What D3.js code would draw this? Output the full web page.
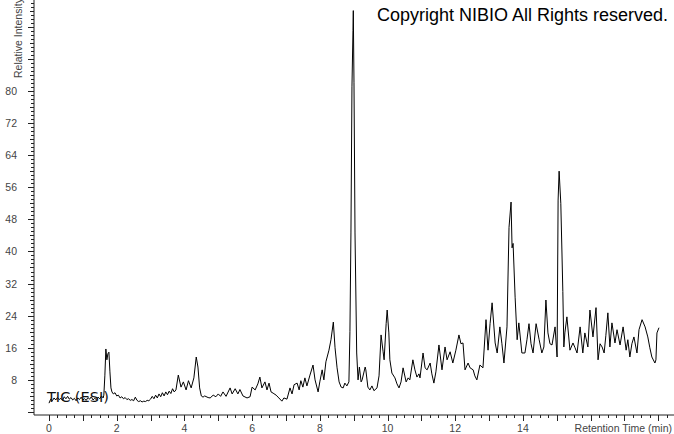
<!DOCTYPE html>
<html>
<head>
<meta charset="utf-8">
<script src="https://cdn.jsdelivr.net/npm/d3@7"></script>
<style>
  body { margin: 0; background: white; }
  .tick-label { font-family: "Liberation Sans", Arial, sans-serif; font-size: 10.5px; fill: #444; }
  .kreska { fill: none; stroke: black; stroke-width: 1px; }
</style>
</head>
<body>
<div id="wykres"></div>
<script>
// retention time (min)
var czasy = [0.00,0.05,0.10,0.15,0.20,0.25,0.30,0.35,0.40,0.45,0.50,0.55,0.60,0.65,0.70,0.75,0.80,0.85,0.90,0.95,
  1.00,1.05,1.10,1.15,1.20,1.25,1.30,1.35,1.40,1.45,1.50,1.55,1.60,1.62,1.65,1.68,1.71,1.74,1.77,1.80,1.83,1.86,
  1.90,1.95,2.00,2.05,2.10,2.15,2.20,2.25,2.30,2.35,2.40,2.45,2.50,2.55,2.60,2.65,2.70,2.75,2.80,2.85,2.90,2.95,
  3.00,3.05,3.10,3.15,3.20,3.25,3.30,3.35,3.40,3.45,3.50,3.55,3.60,3.65,3.70,3.75,3.82,3.90,3.97,4.05,4.12,4.20,
  4.28,4.35,4.40,4.45,4.50,4.55,4.60,4.70,4.76,4.85,4.93,5.00,5.07,5.14,5.23,5.35,5.41,5.50,5.58,5.64,5.73,5.85,
  5.94,6.00,6.09,6.17,6.23,6.29,6.38,6.44,6.50,6.56,6.62,6.71,6.79,6.88,6.94,7.03,7.12,7.18,7.24,7.33,7.39,7.44,
  7.50,7.56,7.62,7.71,7.80,7.86,7.95,8.00,8.07,8.12,8.18,8.27,8.33,8.40,8.45,8.51,8.57,8.63,8.69,8.74,8.80,8.86,
  8.89,8.92,8.95,8.98,8.99,9.01,9.04,9.09,9.13,9.17,9.22,9.25,9.34,9.36,9.42,9.48,9.54,9.60,9.69,9.75,9.81,9.87,
  9.90,9.96,9.99,10.04,10.07,10.13,10.22,10.28,10.34,10.40,10.46,10.55,10.61,10.66,10.75,10.81,10.87,10.93,10.96,
  11.05,11.11,11.17,11.26,11.31,11.37,11.43,11.52,11.61,11.70,11.76,11.85,11.93,12.02,12.11,12.17,12.23,12.29,
  12.38,12.44,12.53,12.58,12.64,12.73,12.82,12.91,12.97,13.03,13.09,13.18,13.24,13.32,13.38,13.44,13.53,13.59,
  13.65,13.68,13.71,13.77,13.83,13.88,13.97,14.06,14.12,14.18,14.24,14.30,14.39,14.48,14.56,14.62,14.68,14.74,
  14.80,14.86,14.95,15.01,15.04,15.07,15.12,15.18,15.21,15.24,15.30,15.39,15.48,15.54,15.60,15.69,15.77,15.83,
  15.92,15.98,16.07,16.16,16.22,16.28,16.34,16.40,16.45,16.51,16.57,16.63,16.72,16.78,16.87,16.96,17.05,17.10,
  17.16,17.22,17.28,17.37,17.43,17.52,17.61,17.69,17.75,17.81,17.90,17.93,17.96,18.02];

// relative intensity (%)
var intensywnosc = [2.2,3.2,2.8,3.5,3.0,3.6,3.1,3.4,2.9,3.8,3.3,3.9,3.2,3.6,3.0,3.4,2.8,3.5,3.1,3.7,
  3.0,3.3,2.9,3.6,3.2,3.8,3.0,3.4,3.1,3.7,3.3,4.0,3.5,4.2,9.0,15.7,13.0,14.5,14.9,10.0,6.0,5.0,
  4.5,4.8,4.0,4.2,3.5,3.8,3.3,3.6,3.1,3.3,2.9,3.1,2.8,3.7,2.9,2.6,2.8,2.5,2.7,2.6,2.9,2.8,
  3.2,3.9,3.3,4.2,3.5,4.5,3.8,4.8,4.0,5.0,4.3,5.2,4.6,5.8,5.0,5.5,9.2,6.2,7.5,5.5,7.8,6.0,
  8.5,13.7,11.2,6.0,4.0,3.7,4.0,3.6,3.5,4.2,3.8,4.5,3.9,5.0,3.9,6.0,4.5,5.8,4.5,5.6,4.0,3.5,
  3.8,6.2,5.5,7.0,8.7,6.0,7.5,5.5,7.2,5.0,4.7,4.2,3.5,2.7,3.5,3.2,6.0,4.5,6.8,7.2,5.5,7.8,
  6.2,8.5,6.5,9.2,11.7,8.0,5.0,7.5,10.5,8.0,12.5,15.4,18.0,22.4,16.0,11.0,7.5,6.2,6.0,7.2,6.5,7.5,
  20.0,44.6,81.0,95.0,100.0,82.0,44.6,14.7,8.0,11.2,7.5,8.0,11.2,10.5,6.2,5.5,6.5,5.3,6.0,9.0,19.2,15.0,
  13.0,22.0,25.4,19.7,13.0,9.7,8.5,7.0,6.0,7.5,11.0,7.5,8.5,8.0,13.0,10.5,8.7,9.5,8.5,
  14.7,11.0,10.5,12.2,9.5,7.2,10.0,16.7,10.5,16.2,13.0,15.0,12.2,15.4,19.2,17.0,17.2,10.5,
  12.2,11.0,10.5,9.0,8.0,11.7,11.0,23.0,15.4,22.0,27.2,17.2,14.7,21.2,17.0,12.2,21.2,46.0,
  52.3,40.9,42.0,28.6,18.0,22.2,14.7,14.7,18.0,22.0,17.0,14.7,22.0,18.0,14.7,16.2,27.9,19.7,
  17.0,16.7,21.2,13.7,52.8,60.0,52.0,30.0,16.2,19.7,23.7,15.4,17.2,16.0,14.7,21.2,14.7,19.7,
  16.2,25.4,18.7,26.0,13.0,17.0,16.2,14.7,19.0,24.7,16.2,22.2,17.2,20.5,16.7,21.2,15.4,18.0,
  13.7,17.0,18.7,14.7,20.5,23.0,21.2,18.7,16.0,13.7,12.2,13.0,19.7,21.0];

var y_etykiety = [8, 16, 24, 32, 40, 48, 56, 64, 72, 80];
var x_etykiety = [0, 2, 4, 6, 8, 10, 12, 14];

var dane_wykres = czasy.map(function (t, i) { return { czas: t, wart: intensywnosc[i] }; });

var width = 674, height = 434;

var svg = d3.select("#wykres")
  .append("svg")
  .attr("width", width)
  .attr("height", height)
  .style("background", "white");

var xscale = d3.scaleLinear()
  .domain([0, 18.9])
  .range([49, 49 + 18.9 * 33.85]);

var yscale = d3.scaleLinear()
  .domain([0, 100])
  .range([412, 412 - 100 * 4.014]);

// os X
var xAxis = svg.append("g")
  .attr("transform", "translate(0,415)");

xAxis.append("line")
  .attr("x1", 34).attr("x2", 674)
  .attr("y1", 0).attr("y2", 0)
  .attr("stroke", "#222");

xAxis.selectAll(".xminor")
  .data(d3.range(0, 76).map(function (i) { return i * 0.25; }))
  .enter().append("line")
  .attr("x1", d => Math.round(xscale(d)) + 0.5)
  .attr("x2", d => Math.round(xscale(d)) + 0.5)
  .attr("y1", 0)
  .attr("y2", d => (Math.abs(d - Math.round(d)) < 1e-6) ? 6 : 3)
  .attr("stroke", "#222");

xAxis.selectAll(".xlab")
  .data(x_etykiety)
  .enter().append("text")
  .attr("class", "tick-label")
  .attr("x", d => xscale(d))
  .attr("y", 17)
  .attr("text-anchor", "middle")
  .text(d => d);

svg.append("text")
  .attr("class", "tick-label")
  .attr("x", 672)
  .attr("y", 432)
  .attr("text-anchor", "end")
  .text("Retention Time (min)");

// os Y
var yAxis = svg.append("g")
  .attr("transform", "translate(34,0)");

yAxis.append("line")
  .attr("x1", 0).attr("x2", 0)
  .attr("y1", 0).attr("y2", 415)
  .attr("stroke", "#222");

yAxis.selectAll(".yminor")
  .data(d3.range(0, 103))
  .enter().append("line")
  .attr("x1", d => (d % 8 === 0) ? -6 : (d % 4 === 0 ? -4 : -3))
  .attr("x2", 0)
  .attr("y1", d => Math.round(yscale(d)) + 0.5)
  .attr("y2", d => Math.round(yscale(d)) + 0.5)
  .attr("stroke", "#222");

yAxis.selectAll(".ylab")
  .data(y_etykiety)
  .enter().append("text")
  .attr("class", "tick-label")
  .attr("x", -17)
  .attr("y", d => yscale(d) + 4)
  .attr("text-anchor", "end")
  .text(d => d);

svg.append("text")
  .attr("class", "tick-label")
  .attr("transform", "translate(22,78)rotate(-90)")
  .text("Relative Intensity");

// chromatogram
var kreska = svg.append("path")
  .datum(dane_wykres)
  .attr("class", "kreska")
  .attr("d", d3.line()
    .x(function (d) { return xscale(d.czas) })
    .y(function (d) { return yscale(d.wart) })
  );

svg.append("text")
  .attr("x", 47)
  .attr("y", 402)
  .style("font-family", "'DejaVu Sans', Verdana, sans-serif")
  .style("font-size", "14.5px")
  .style("fill", "#111")
  .text("TIC (ESI)");

svg.append("text")
  .attr("x", 377)
  .attr("y", 21)
  .style("font-family", "'Liberation Sans', Arial, sans-serif")
  .style("font-size", "18px")
  .style("fill", "black")
  .text("Copyright NIBIO All Rights reserved.");
</script>
</body>
</html>
